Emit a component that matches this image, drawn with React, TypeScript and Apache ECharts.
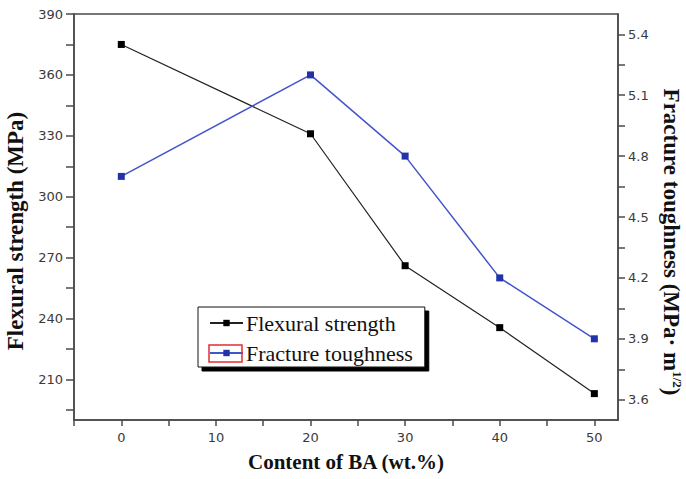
import React, { useEffect, useRef } from "react";
import * as echarts from "echarts";

const xValues = [0, 20, 30, 40, 50];
const flexuralStrength = [375, 331, 266, 235.5, 203];
const fractureToughness = [4.7, 5.2, 4.8, 4.2, 3.9];

const xTickValues = [-5, 0, 5, 10, 15, 20, 25, 30, 35, 40, 45, 50];
const xLabelValues = [0, 10, 20, 30, 40, 50];
const leftTickValues = [195, 210, 225, 240, 255, 270, 285, 300, 315, 330, 345, 360, 375, 390];
const leftLabelValues = [210, 240, 270, 300, 330, 360, 390];
const rightTickValues = [3.6, 3.75, 3.9, 4.05, 4.2, 4.35, 4.5, 4.65, 4.8, 4.95, 5.1, 5.25, 5.4];
const rightLabelValues = [3.6, 3.9, 4.2, 4.5, 4.8, 5.1, 5.4];

const AXIS_COLOR = "#4a4a4a";
const LABEL_FONT = "DejaVu Sans";
const SERIF = "Liberation Serif";

export default function App() {
  const ref = useRef<HTMLDivElement>(null);

  useEffect(() => {
    document.body.style.margin = "0";
    if (!ref.current) return;
    const chart = echarts.init(ref.current, null, { renderer: "svg" });

    const axisLine = { show: true, onZero: false, lineStyle: { color: AXIS_COLOR, width: 1.5 } };

    chart.setOption({
      animation: false,
      backgroundColor: "#fff",
      grid: {
        left: 74,
        right: 68,
        top: 14,
        bottom: 59,
        containLabel: false,
        outerBoundsMode: "none",
        show: true,
        borderColor: AXIS_COLOR,
        borderWidth: 1.5,
      },
      legend: {
        orient: "vertical",
        left: 198,
        top: 307,
        padding: [5, 12, 3, 11],
        itemGap: 8,
        itemWidth: 33,
        itemHeight: 8,
        backgroundColor: "#fff",
        borderColor: "#111",
        borderWidth: 1,
        borderRadius: 0,
        shadowColor: "#000",
        shadowBlur: 0,
        shadowOffsetX: 4,
        shadowOffsetY: 4,
        textStyle: { fontFamily: SERIF, fontSize: 22, color: "#111", padding: [0, 0, 0, -2] },
        data: ["Flexural strength", "Fracture toughness"],
      },
      xAxis: {
        type: "value",
        min: -5,
        max: 52.5,
        axisLine,
        splitLine: { show: false },
        axisTick: { show: true, inside: false, length: 6, customValues: xTickValues, lineStyle: { color: AXIS_COLOR, width: 1.5 } },
        axisLabel: { customValues: xLabelValues, margin: 11, fontFamily: LABEL_FONT, fontSize: 13, color: "#3a3a3a" },
        name: "Content of BA (wt.%)",
        nameLocation: "middle",
        nameGap: 31,
        nameTextStyle: { fontFamily: SERIF, fontWeight: "bold", fontSize: 21, color: "#111" },
      },
      yAxis: [
        {
          type: "value",
          position: "left",
          min: 190,
          max: 390,
          axisLine,
          splitLine: { show: false },
          axisTick: { show: true, inside: false, length: 8, customValues: leftTickValues, lineStyle: { color: AXIS_COLOR, width: 1.5 } },
          axisLabel: { customValues: leftLabelValues, margin: 11, fontFamily: LABEL_FONT, fontSize: 13, color: "#3a3a3a" },
          name: "Flexural strength (MPa)",
          nameLocation: "middle",
          nameRotate: 90,
          nameGap: 46,
          nameTextStyle: { fontFamily: SERIF, fontWeight: "bold", fontSize: 23, color: "#111", padding: [0, 28, 0, 0] },
        },
        {
          type: "value",
          position: "right",
          min: 3.5,
          max: 5.5,
          axisLine,
          splitLine: { show: false },
          axisTick: { show: true, inside: false, length: 7, customValues: rightTickValues, lineStyle: { color: AXIS_COLOR, width: 1.5 } },
          axisLabel: {
            customValues: rightLabelValues,
            margin: 10,
            fontFamily: LABEL_FONT,
            fontSize: 13,
            color: "#3a3a3a",
            formatter: (v: number) => v.toFixed(1),
          },
          name: "{a|Fracture toughness (MPa· m}{b|1/2}{a|)}",
          nameLocation: "middle",
          nameRotate: -90,
          nameGap: 38,
          nameTextStyle: {
            padding: [0, 0, 0, 50],
            rich: {
              a: { fontFamily: SERIF, fontWeight: "bold", fontSize: 23, color: "#111", lineHeight: 26 },
              b: { fontFamily: SERIF, fontWeight: "bold", fontSize: 13, color: "#111", verticalAlign: "top", lineHeight: 26 },
            },
          },
        },
      ],
      series: [
        {
          name: "Flexural strength",
          type: "line",
          yAxisIndex: 0,
          data: xValues.map((x, i) => [x, flexuralStrength[i]]),
          symbol: "rect",
          symbolSize: 7,
          itemStyle: { color: "#000" },
          lineStyle: { color: "#222", width: 1.2 },
        },
        {
          name: "Fracture toughness",
          type: "line",
          yAxisIndex: 1,
          data: xValues.map((x, i) => [x, fractureToughness[i]]),
          symbol: "rect",
          symbolSize: 7,
          itemStyle: { color: "#2233aa" },
          lineStyle: { color: "#4455cc", width: 1.5 },
        },
      ],
      graphic: [
        {
          type: "rect",
          shape: { x: 209, y: 345, width: 33, height: 17 },
          style: { fill: "none", stroke: "#e03030", lineWidth: 1.5 },
          z: 100,
        },
      ],
    });

    return () => chart.dispose();
  }, []);

  return <div ref={ref} style={{ position: "absolute", left: 0, top: 0, width: 686, height: 479 }} />;
}
